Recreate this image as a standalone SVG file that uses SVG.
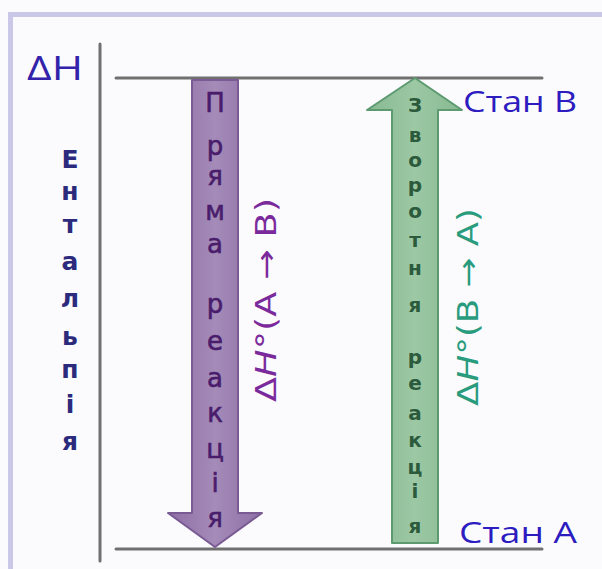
<svg xmlns="http://www.w3.org/2000/svg" width="602" height="569" viewBox="0 0 602 569">
<style>
.ax{stroke:#707070;stroke-width:3;fill:none;stroke-linecap:round}
.ent{font-family:"DejaVu Sans",Verdana,sans-serif;font-size:25px;font-weight:bold;fill:#2b2a7c;text-anchor:middle}
.pl{font-family:"DejaVu Sans",Verdana,sans-serif;font-size:26px;fill:#4a1c6c;text-anchor:middle;stroke:#4a1c6c;stroke-width:0.6}
.gl{font-family:"DejaVu Sans",Verdana,sans-serif;font-size:20px;font-weight:bold;fill:#2c5a3c;text-anchor:middle}
.st{font-family:"Open Sans","Liberation Sans",sans-serif;font-size:30px;font-weight:500;fill:#2d1cbf}
.dh{font-family:"DejaVu Sans",Verdana,sans-serif;font-size:29px;text-anchor:middle}
</style>
<defs>
<linearGradient id="gp" x1="0" x2="1" y1="0" y2="0">
<stop offset="0" stop-color="#8e6fa6"/><stop offset="0.5" stop-color="#a48bb8"/><stop offset="1" stop-color="#8e6fa6"/>
</linearGradient>
<linearGradient id="gg" x1="0" x2="1" y1="0" y2="0">
<stop offset="0" stop-color="#86b991"/><stop offset="0.5" stop-color="#9cc8a4"/><stop offset="1" stop-color="#86b991"/>
</linearGradient>
</defs>
<rect x="0" y="0" width="602" height="569" fill="#fbfbfd"/>
<rect x="8" y="12" width="594" height="5" fill="#cac7e8"/>
<rect x="8" y="12" width="5" height="557" fill="#cac7e8"/>

<g id="connectors">
<line class="ax" x1="100" y1="44" x2="100" y2="561"/>
<line class="ax" x1="116" y1="78" x2="542" y2="78"/>
<line class="ax" x1="116" y1="549" x2="542" y2="549"/>
</g>

<g id="axis-label">
<text x="27" y="80" font-family="Open Sans,Liberation Sans,sans-serif" font-size="32" font-weight="500" fill="#3322aa" textLength="56" lengthAdjust="spacingAndGlyphs">ΔH</text>
<text class="ent" x="70" y="168">Е</text>
<text class="ent" x="70" y="200">н</text>
<text class="ent" x="70" y="233">т</text>
<text class="ent" x="70" y="270">а</text>
<text class="ent" x="70" y="307">л</text>
<text class="ent" x="70" y="345">ь</text>
<text class="ent" x="70" y="378">п</text>
<text class="ent" x="70" y="413">і</text>
<text class="ent" x="70" y="450">я</text>
</g>

<g id="forward-arrow">
<path d="M192,80 L238,80 L238,513 L262,513 L215,547 L168,513 L192,513 Z" fill="url(#gp)" stroke="#7a5a93" stroke-width="2" stroke-linejoin="round"/>
<text class="pl" x="215" y="112">П</text>
<text class="pl" x="215" y="155">р</text>
<text class="pl" x="215" y="185">я</text>
<text class="pl" x="215" y="220">м</text>
<text class="pl" x="215" y="253">а</text>
<text class="pl" x="215" y="313">р</text>
<text class="pl" x="215" y="350">е</text>
<text class="pl" x="215" y="387">а</text>
<text class="pl" x="215" y="422">к</text>
<text class="pl" x="215" y="458">ц</text>
<text class="pl" x="215" y="492">і</text>
<text class="pl" x="215" y="527">я</text>
<text class="dh" fill="#7b2a9c" transform="translate(276,300) rotate(-90)" textLength="204" lengthAdjust="spacingAndGlyphs">Δ<tspan font-style="italic">H</tspan>°(A → B)</text>
</g>

<g id="reverse-arrow">
<path d="M415,78 L462,110 L438,110 L438,543 L392,543 L392,110 L367,110 Z" fill="url(#gg)" stroke="#5d9a70" stroke-width="2" stroke-linejoin="round"/>
<text class="gl" x="415" y="112">З</text>
<text class="gl" x="415" y="142">в</text>
<text class="gl" x="415" y="167">о</text>
<text class="gl" x="415" y="192">р</text>
<text class="gl" x="415" y="218">о</text>
<text class="gl" x="415" y="247">т</text>
<text class="gl" x="415" y="275">н</text>
<text class="gl" x="415" y="312">я</text>
<text class="gl" x="415" y="364">р</text>
<text class="gl" x="415" y="390">е</text>
<text class="gl" x="415" y="420">а</text>
<text class="gl" x="415" y="447">к</text>
<text class="gl" x="415" y="474">ц</text>
<text class="gl" x="415" y="498">і</text>
<text class="gl" x="415" y="533">я</text>
<text class="dh" fill="#2a9c7e" transform="translate(478,307) rotate(-90)" textLength="198" lengthAdjust="spacingAndGlyphs">Δ<tspan font-style="italic">H</tspan>°(B → A)</text>
</g>

<g id="state-b">
<text class="st" x="463" y="112" textLength="114" lengthAdjust="spacingAndGlyphs">Стан B</text>
</g>
<g id="state-a">
<text class="st" x="459" y="543" textLength="118" lengthAdjust="spacingAndGlyphs">Стан A</text>
</g>
</svg>
